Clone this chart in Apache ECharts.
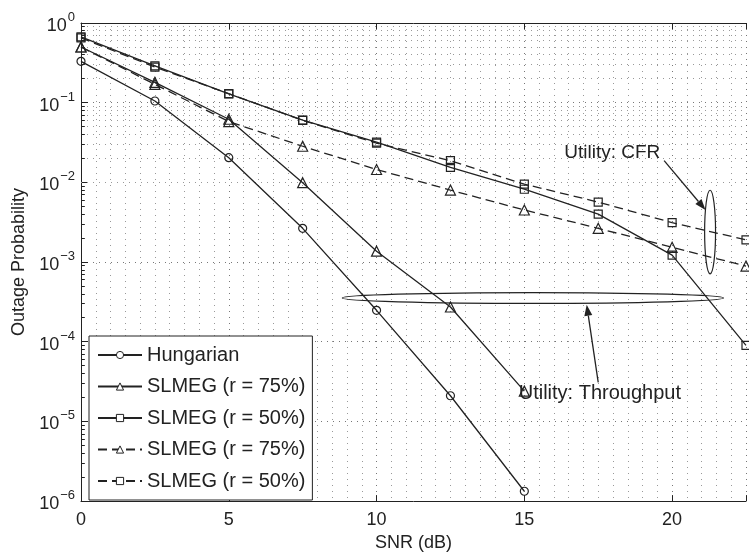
<!DOCTYPE html>
<html>
<head>
<meta charset="utf-8">
<script src="https://cdn.jsdelivr.net/npm/echarts@6/dist/echarts.min.js"></script>
<style>html,body{margin:0;padding:0;background:#fff}#c{width:749px;height:557px}</style>
</head>
<body>
<div id="c"></div>
<script>
// ---- data ----
const snr = [0, 2.5, 5, 7.5, 10, 12.5, 15, 17.5, 20, 22.5];
const hungarian = [0.33, 0.105, 0.0204, 0.00265, 2.48e-4, 2.1e-5, 1.33e-6];
const slmeg75Solid = [0.5, 0.18, 0.062, 0.0099, 0.00137, 2.73e-4, 2.4e-5];
const slmeg50Solid = [0.67, 0.29, 0.129, 0.0605, 0.032, 0.0154, 0.0082, 0.004, 0.00122, 9e-5];
const slmeg75Dashed = [0.5, 0.17, 0.058, 0.0284, 0.0145, 0.008, 0.0045, 0.00265, 0.00153, 8.9e-4];
const slmeg50Dashed = [0.65, 0.28, 0.13, 0.06, 0.031, 0.0187, 0.0095, 0.00566, 0.00312, 0.0019];
const seriesNames = ['Hungarian', 'SLMEG (r = 75%)', 'SLMEG (r = 50%)', 'SLMEG (r = 75%)', 'SLMEG (r = 50%)'];
const xTicks = [0, 5, 10, 15, 20];
const yDecades = [-6, -5, -4, -3, -2, -1, 0];

// annotations in data coordinates
const cfrLabel = {text: 'Utility: CFR', x: 16.35, y: Math.pow(10, -1.63)};
const thrLabel = {text: 'Utility: Throughput', x: 14.81, y: Math.pow(10, -4.655)};
const thrEllipse = {x0: 8.84, x1: 21.74, y0: Math.pow(10, -3.383), y1: Math.pow(10, -3.519)};
const cfrEllipse = {x0: 21.1, x1: 21.47, y0: Math.pow(10, -2.099), y1: Math.pow(10, -3.148)};
const cfrArrow = {from: [19.73, Math.pow(10, -1.728)], to: [21.13, Math.pow(10, -2.346)]};
const thrArrow = {from: [17.5, Math.pow(10, -4.51)], to: [17.11, Math.pow(10, -3.535)]};

const FONT = "'Liberation Sans', Arial, Helvetica, sans-serif";
const INK = '#222';
const zip = vals => vals.map((v, i) => [snr[i], v]);

const minorVals = [];
yDecades.slice(0, -1).forEach(d => { for (let k = 2; k <= 9; k++) minorVals.push(k * Math.pow(10, d)); });

const chart = echarts.init(document.getElementById('c'), null, {renderer: 'canvas'});

function mk(name, vals, symbol, size, dashed) {
  return {
    name: name, type: 'line', data: zip(vals), xAxisIndex: 0, yAxisIndex: 0,
    symbol: symbol, symbolSize: size, showSymbol: true,
    lineStyle: {color: INK, width: 1.3, type: dashed ? [9, 5] : 'solid'},
    itemStyle: {color: 'rgba(255,255,255,0)', borderColor: INK, borderWidth: 1.2},
    emphasis: {disabled: true}, z: 5
  };
}
const legendNames = [seriesNames[0], seriesNames[1], seriesNames[2], seriesNames[3] + '\u200b', seriesNames[4] + '\u200b'];

const option = {
  backgroundColor: '#fff',
  animation: false,
  textStyle: {fontFamily: FONT},
  grid: {left: 81, top: 23, bottom: 49, right: -4, containLabel: false},
  legend: {
    data: legendNames, orient: 'vertical', left: 89, top: 336,
    backgroundColor: '#fff', borderColor: INK, borderWidth: 1,
    padding: [9, 7, 9, 8], itemGap: 11.5, itemWidth: 44, itemHeight: 9,
    formatter: n => n.replace('\u200b', ''),
    itemStyle: {color: '#fff', borderColor: INK, borderWidth: 1},
    textStyle: {fontFamily: FONT, fontSize: 20, color: INK, lineHeight: 20},
    selectedMode: false
  },
  xAxis: [{
    type: 'value', min: 0, max: 22.5, interval: 5, position: 'bottom',
    name: 'SNR (dB)', nameLocation: 'middle', nameGap: 31,
    nameTextStyle: {fontFamily: FONT, fontSize: 18, color: INK},
    axisLine: {show: true, lineStyle: {color: INK, width: 1}},
    axisTick: {show: true, inside: true, length: 6, lineStyle: {color: INK}},
    axisLabel: {fontFamily: FONT, fontSize: 18, color: INK, margin: 10,
      formatter: v => (xTicks.indexOf(v) >= 0 ? String(v) : '')},
    splitLine: {show: true, lineStyle: {color: '#777', width: 1, type: [1, 5]}},
    minorTick: {show: false, splitNumber: 10},
    minorSplitLine: {show: true, lineStyle: {color: '#999', width: 1, type: [1, 5]}}
  }, {
    type: 'value', min: 0, max: 22.5, interval: 5, position: 'top',
    axisLine: {show: true, lineStyle: {color: INK, width: 1}},
    axisTick: {show: true, inside: true, length: 6, lineStyle: {color: INK}},
    axisLabel: {show: false}, splitLine: {show: false}
  }],
  yAxis: [{
    type: 'log', logBase: 10, min: 1e-6, max: 1, splitNumber: 6,
    name: 'Outage Probability', nameLocation: 'middle', nameGap: 49,
    nameTextStyle: {fontFamily: FONT, fontSize: 18, color: INK},
    axisLine: {show: true, lineStyle: {color: INK, width: 1}},
    axisTick: {show: true, inside: true, length: 7, lineStyle: {color: INK}},
    axisLabel: {
      margin: 6, color: INK,
      formatter: v => {
        const e = Math.round(Math.log10(v));
        return '{b|10}{s|' + (e === 0 ? '0' : '\u2212' + (-e)) + '}';
      },
      rich: {
        b: {fontFamily: FONT, fontSize: 18, color: INK, lineHeight: 24, verticalAlign: 'bottom'},
        s: {fontFamily: FONT, fontSize: 13, color: INK, lineHeight: 13, verticalAlign: 'top', padding: [0, 0, 0, 1]}
      }
    },
    splitLine: {show: true, lineStyle: {color: '#777', width: 1, type: [1, 5]}}
  }],
  series: [
    mk(legendNames[0], hungarian, 'circle', 8, false),
    mk(legendNames[1], slmeg75Solid, 'triangle', 10, false),
    mk(legendNames[2], slmeg50Solid, 'rect', 8, false),
    mk(legendNames[3], slmeg75Dashed, 'triangle', 10, true),
    mk(legendNames[4], slmeg50Dashed, 'rect', 8, true),
    {
      name: 'minorGrid', type: 'line', data: [], z: 1, silent: true,
      markLine: {
        silent: true, symbol: ['none', 'none'], label: {show: false}, animation: false,
        lineStyle: {color: '#999', width: 1, type: [1, 5]},
        emphasis: {disabled: true},
        data: minorVals.map(v => ({yAxis: v}))
      }
    },
    {
      name: 'minorTicks', type: 'line', data: [], z: 3, silent: true,
      markLine: {
        silent: true, symbol: ['none', 'none'], label: {show: false}, animation: false,
        lineStyle: {color: INK, width: 1, type: 'solid'},
        emphasis: {disabled: true},
        data: minorVals.map(v => [{coord: [0, v]}, {coord: [0.13, v]}])
      }
    }
  ]
};
chart.setOption(option);

function px(p) { return chart.convertToPixel({gridIndex: 0}, p); }
function arrow(from, to) {
  const a = px(from), b = px(to);
  const ang = Math.atan2(b[1] - a[1], b[0] - a[0]);
  const L = 11, W = 4;
  const bx = b[0] - L * Math.cos(ang), by = b[1] - L * Math.sin(ang);
  const nx = -Math.sin(ang) * W, ny = Math.cos(ang) * W;
  return [
    {type: 'line', shape: {x1: a[0], y1: a[1], x2: bx, y2: by}, style: {stroke: INK, lineWidth: 1.3}, z: 20},
    {type: 'polygon', shape: {points: [[b[0], b[1]], [bx + nx, by + ny], [bx - nx, by - ny]]}, style: {fill: INK}, z: 20}
  ];
}
function ellipse(e) {
  const p0 = px([e.x0, e.y0]), p1 = px([e.x1, e.y1]);
  return {type: 'ellipse', shape: {cx: (p0[0] + p1[0]) / 2, cy: (p0[1] + p1[1]) / 2,
    rx: Math.abs(p1[0] - p0[0]) / 2, ry: Math.abs(p1[1] - p0[1]) / 2},
    style: {fill: 'none', stroke: INK, lineWidth: 1.2}, z: 20};
}
function label(l, size) {
  const p = px([l.x, l.y]);
  return {type: 'text', x: p[0], y: p[1], z: 21,
    style: {text: l.text, font: size + 'px ' + FONT, fill: INK, textAlign: 'left', textVerticalAlign: 'middle'}};
}
chart.setOption({graphic: {elements: [
  ellipse(thrEllipse), ellipse(cfrEllipse),
  ...arrow(cfrArrow.from, cfrArrow.to), ...arrow(thrArrow.from, thrArrow.to),
  label(cfrLabel, 19), label(thrLabel, 20)
]}});
</script>
</body>
</html>
